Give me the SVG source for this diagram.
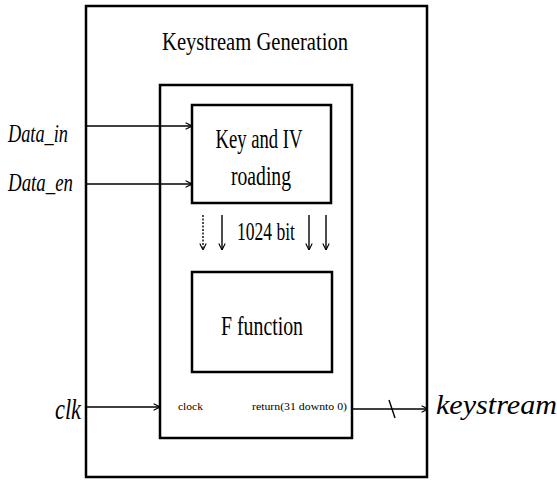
<svg xmlns="http://www.w3.org/2000/svg" width="557" height="480" viewBox="0 0 557 480" font-family="'Liberation Serif', 'Times New Roman', 'DejaVu Serif', serif">
<style>
.box{fill:none;stroke:#000;stroke-width:2.5}
.ln{fill:none;stroke:#000;stroke-width:1.4}
text{font-family:'Liberation Serif','Times New Roman','DejaVu Serif',serif;fill:#000}
.it{font-style:italic}
</style>
<defs>
<marker id="ah" viewBox="0 0 10 10" refX="10" refY="5" markerWidth="8" markerHeight="8" orient="auto" markerUnits="userSpaceOnUse">
<path d="M2,1 L10,5 L2,9" fill="none" stroke="#000" stroke-width="1.4"/>
</marker>
</defs>
<rect width="557" height="480" fill="#fff"/>
<g id="outer">
<rect class="box" x="86" y="6" width="341" height="471" stroke-width="2"/>
<text x="255" y="50" font-size="26" text-anchor="middle" textLength="186" lengthAdjust="spacingAndGlyphs">Keystream Generation</text>
</g>
<g id="inner">
<rect class="box" x="160" y="85" width="192" height="353"/>
<text x="178" y="410" font-size="11" textLength="25" lengthAdjust="spacingAndGlyphs">clock</text>
<text x="347" y="410" font-size="11" text-anchor="end" textLength="95" lengthAdjust="spacingAndGlyphs">return(31 downto 0)</text>
</g>
<g id="keyiv">
<rect class="box" x="192" y="105" width="139" height="98"/>
<text x="259" y="148" font-size="28" text-anchor="middle" textLength="87" lengthAdjust="spacingAndGlyphs">Key and IV</text>
<text x="261" y="185" font-size="27" text-anchor="middle" textLength="60" lengthAdjust="spacingAndGlyphs">roading</text>
</g>
<g id="ffunc">
<rect class="box" x="192" y="272" width="140" height="100"/>
<text x="262" y="335" font-size="27" text-anchor="middle" textLength="82" lengthAdjust="spacingAndGlyphs">F function</text>
</g>
<g id="labels">
<text class="it" x="8" y="142" font-size="26" textLength="60" lengthAdjust="spacingAndGlyphs">Data_in</text>
<text class="it" x="8" y="191" font-size="26" textLength="65" lengthAdjust="spacingAndGlyphs">Data_en</text>
<text class="it" x="55" y="419" font-size="30" textLength="26" lengthAdjust="spacingAndGlyphs">clk</text>
<text class="it" x="436" y="414" font-size="28" textLength="121" lengthAdjust="spacingAndGlyphs">keystream</text>
<text x="266" y="240" font-size="25" text-anchor="middle" textLength="58" lengthAdjust="spacingAndGlyphs">1024 bit</text>
</g>
<g id="connectors">
<line class="ln" x1="86" y1="126" x2="192" y2="126" marker-end="url(#ah)"/>
<line class="ln" x1="86" y1="184" x2="192" y2="184" marker-end="url(#ah)"/>
<line class="ln" x1="86" y1="407" x2="160" y2="407" marker-end="url(#ah)"/>
<line class="ln" x1="352" y1="409" x2="428" y2="409" marker-end="url(#ah)"/>
<line class="ln" x1="389" y1="400" x2="395" y2="418"/>
<line class="ln" x1="203" y1="215" x2="203" y2="250" stroke-dasharray="2,1.5" marker-end="url(#ah)"/>
<line class="ln" x1="222" y1="215" x2="222" y2="250" marker-end="url(#ah)"/>
<line class="ln" x1="309" y1="215" x2="309" y2="250" marker-end="url(#ah)"/>
<line class="ln" x1="326" y1="215" x2="326" y2="250" marker-end="url(#ah)"/>
</g>
</svg>
